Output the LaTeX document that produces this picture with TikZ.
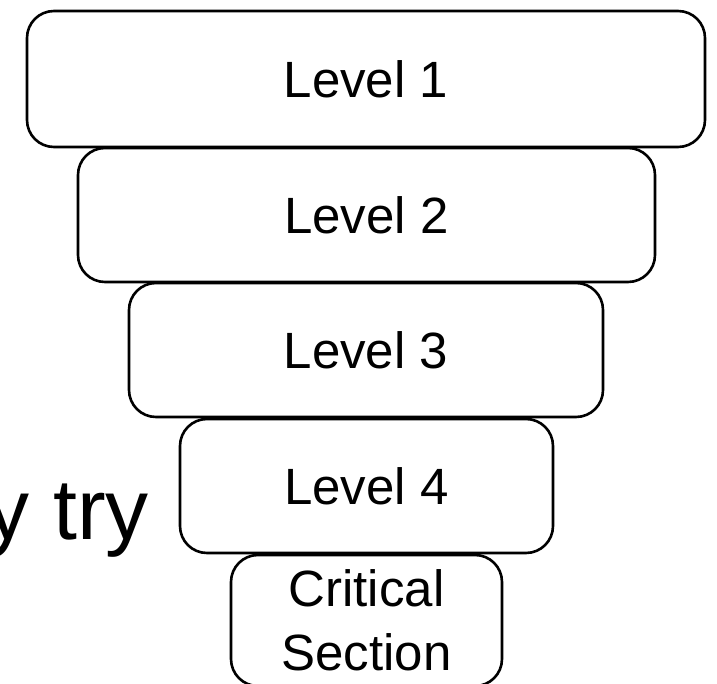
\documentclass[tikz,border=0pt]{standalone}
\usepackage{fontspec}
\setmainfont{Liberation Sans}
\begin{document}
\begin{tikzpicture}[x=1pt,y=-1pt,
  lvl/.style={draw=black, line width=2.6pt, rounded corners=27pt, fill=white,
    inner sep=0pt, anchor=center,
    font=\fontsize{51}{64}\selectfont, align=center},
  side/.style={inner sep=0pt, font=\fontsize{86}{100}\selectfont}]
\useasboundingbox (0,0) rectangle (717,684);
\clip (0,0) rectangle (717,684);
\fill[white] (0,0) rectangle (717,684);
\node[lvl, minimum width=678pt, minimum height=136pt] (l1) at (366,79) {Level 1};
\node[lvl, minimum width=577pt, minimum height=134pt] (l2) at (366.5,215) {Level 2};
\node[lvl, minimum width=474pt, minimum height=134pt] (l3) at (366,350) {Level 3};
\node[lvl, minimum width=373pt, minimum height=134pt] (l4) at (366.5,486) {Level 4};
\node[lvl, minimum width=271pt, minimum height=131pt] (cs) at (366.5,620.5) {Critical\\Section};
\node[side, anchor=base east] (try) at (149,539) {y try};
\end{tikzpicture}
\end{document}
